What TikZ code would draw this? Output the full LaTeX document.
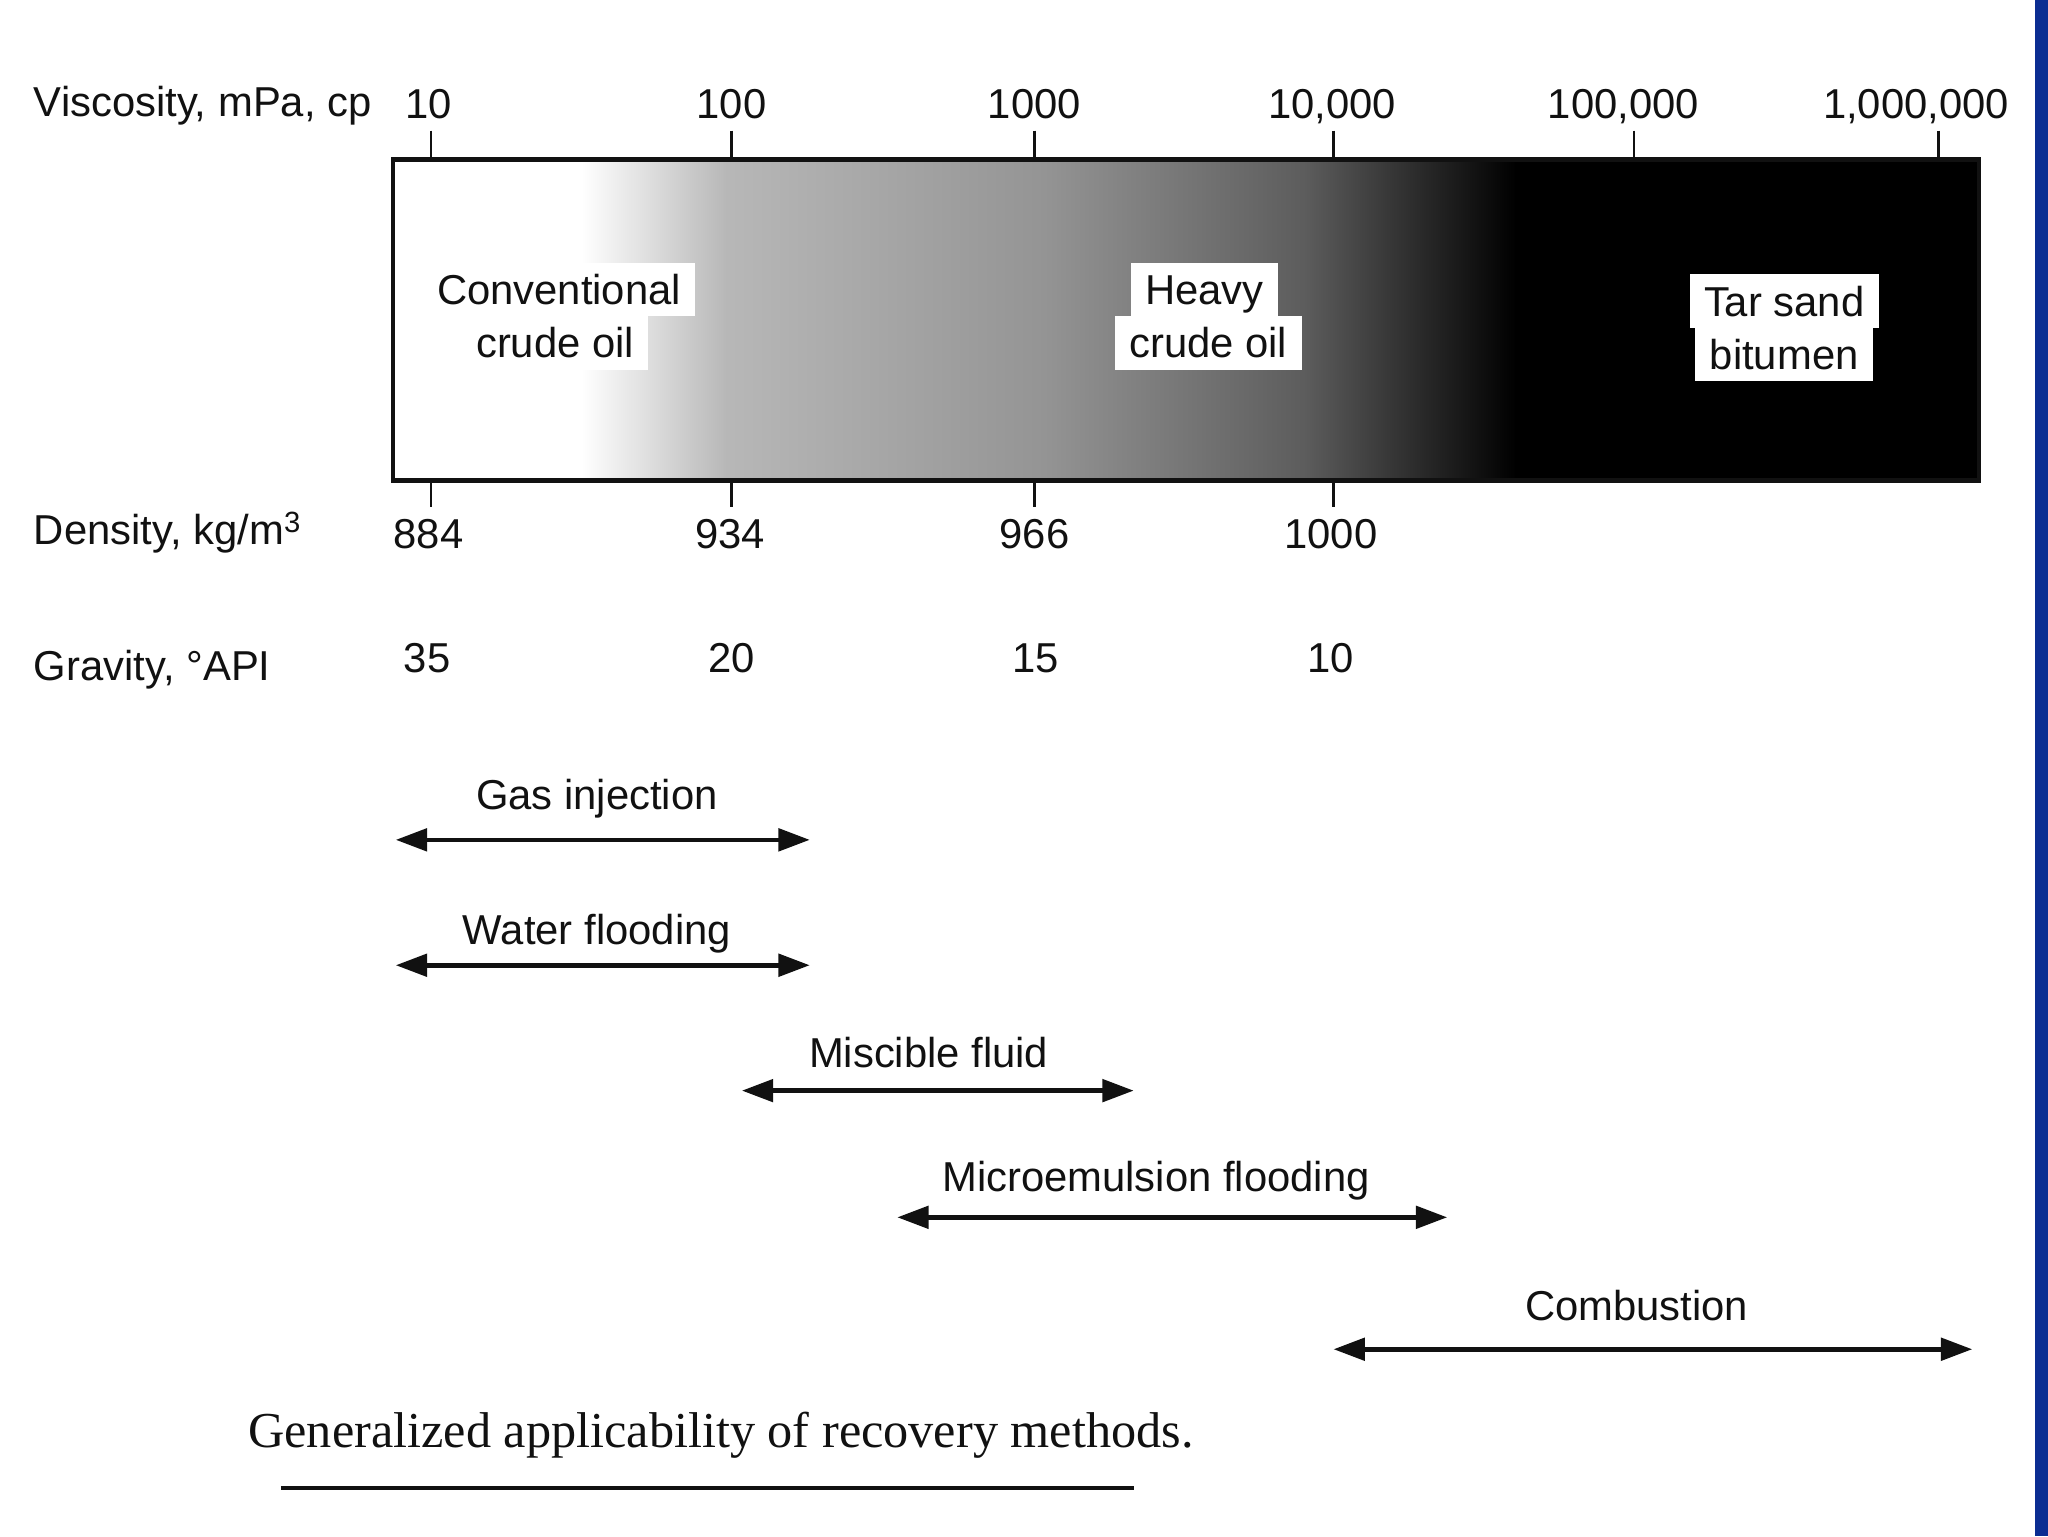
\documentclass[tikz,border=0pt]{standalone}
\usepackage{fontspec}
\setmainfont{Liberation Sans}
\newfontfamily\capfont{Liberation Serif}
\usetikzlibrary{arrows.meta}
\definecolor{ink}{HTML}{111111}
\definecolor{slide}{HTML}{0B2D92}

\begin{document}
\begin{tikzpicture}[
  x=1pt, y=-1pt, line width=2pt, draw=ink, text=ink,
  lab/.style={font=\fontsize{32}{38}\selectfont, anchor=base, inner sep=0pt},
  tag/.style={lab, fill=white, inner xsep=11pt, inner ysep=5pt, text height=27pt, text depth=4pt},
  caption/.style={font=\capfont\fontsize{38.5}{44}\selectfont, anchor=base, inner sep=0pt},
  spanarrow/.style={draw=ink, line width=3.5pt,
    {Triangle[length=24pt,width=17pt]}-{Triangle[length=24pt,width=17pt]}},
  tickmark/.style={draw=ink, line width=2pt},
]
  % Page: white sheet, blue slide edge on the right.
  \useasboundingbox (0,0) rectangle (1568,1176);
  \fill[white] (0,0) rectangle (1568,1176);
  \fill[slide] (1558,0) rectangle (1568,1176);

  % The oil band: white on the left, black on the right.
  \def\bt{122} \def\bb{368}
  \foreach \xa/\xb/\ca/\cb in {445/556/white/black!28, 555/801/black!28/black!42,
      800/1001/black!42/black!64, 1000/1161/black!64/black}
    \shade[left color=\ca, right color=\cb] (\xa,\bt) rectangle (\xb,\bb);
  \fill[black] (1160,\bt) rectangle (1515,\bb);
  \draw[line width=3.5pt] (301,\bt) rectangle (1515,\bb);

  % Viscosity scale above the band.
  \node[lab, anchor=base west] (visc) at (25,89) {Viscosity, mPa, cp};
  \foreach \x/\t [count=\i] in {328/10, 560/100, 792/1000, 1020/10{,}000,
      1243/100{,}000, 1467/1{,}000{,}000}
    \node[lab] (v\i) at (\x,91) {\t};
  \foreach \x in {330,560,792,1021,1251,1484}
    \draw[tickmark] (\x,100) -- (\x,\bt);

  % Density and gravity scales below it.
  \foreach \x in {330,560,792,1021}
    \draw[tickmark] (\x,\bb) -- (\x,388);
  \node[lab, anchor=base west] (dens) at (25,417) {Density, kg/m\textsuperscript{3}};
  \foreach \x/\t [count=\i] in {328/884, 559/934, 792/966, 1019/1000}
    \node[lab] (d\i) at (\x,420) {\t};
  \node[lab, anchor=base west] (grav) at (25,521) {Gravity, °API};
  \foreach \x/\t [count=\i] in {327/35, 560/20, 793/15, 1019/10}
    \node[lab] (g\i) at (\x,515) {\t};

  % Oil classes, one white tag per line.
  \node[tag] (conv1) at (428,233) {Conventional};
  \node[tag] (conv2) at (425,274) {crude oil};
  \node[tag] (heavy1) at (922,233) {Heavy};
  \node[tag] (heavy2) at (925,274) {crude oil};
  \node[tag] (tar1) at (1366,242) {Tar sand};
  \node[tag] (tar2) at (1366,283) {bitumen};

  % Recovery methods and their viscosity ranges.
  \foreach \n/\xl/\xr/\y/\xt/\yt/\t in {gas/303/620/643/457/620/Gas injection,
      water/303/620/739/457/723/Water flooding,
      misc/568/868/835/711/817/Miscible fluid,
      micro/687/1108/932/885/912/Microemulsion flooding,
      comb/1021/1510/1033/1253/1011/Combustion} {
    \coordinate (\n L) at (\xl,\y);
    \coordinate (\n R) at (\xr,\y);
    \node[lab] (\n) at (\xt,\yt) {\t};
    \draw[spanarrow] (\n L) -- (\n R);
  }

  % Caption, underlined.
  \node[caption] (title) at (552,1108) {Generalized applicability of recovery methods.};
  \coordinate (ulL) at (215,1139);
  \coordinate (ulR) at (868,1139);
  \draw[line width=3pt] (ulL) -- (ulR);
\end{tikzpicture}
\end{document}
